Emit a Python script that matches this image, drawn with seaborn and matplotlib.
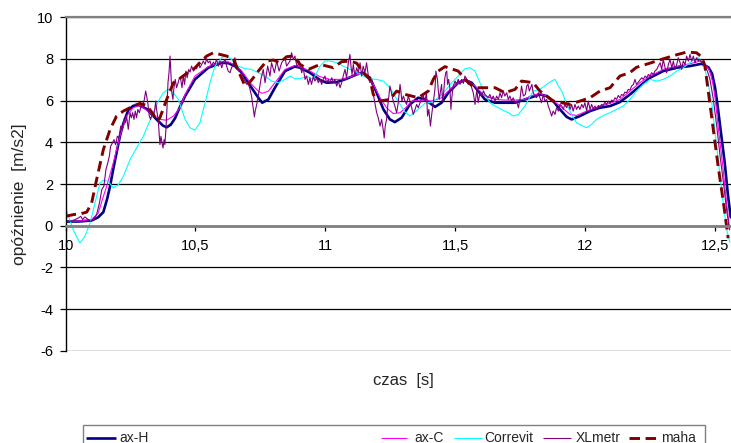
import matplotlib
matplotlib.use("Agg")
import matplotlib.pyplot as plt
import numpy as np
import pandas as pd
import seaborn as sns
from matplotlib.lines import Line2D
from matplotlib.patches import Rectangle

# ---------------------------------------------------------------- data
series_names = ["ax-H", "ax-C", "Correvit", "XLmetr", "maha"]

x_ticks = [10.0, 10.5, 11.0, 11.5, 12.0, 12.5]
x_tick_labels = ["10", "10,5", "11", "11,5", "12", "12,5"]
y_ticks = [-6, -4, -2, 0, 2, 4, 6, 8, 10]
y_tick_labels = ["-6", "-4", "-2", "0", "2", "4", "6", "8", "10"]

t_axH = [10.000, 10.050, 10.100, 10.125, 10.145, 10.160, 10.171, 10.183, 10.196, 10.209,
         10.222, 10.241, 10.260, 10.280, 10.312, 10.350, 10.375, 10.389, 10.405, 10.421,
         10.440, 10.460, 10.498, 10.549, 10.601, 10.626, 10.652, 10.678, 10.716, 10.742,
         10.757, 10.781, 10.806, 10.845, 10.883, 10.903, 10.941, 10.980, 11.005, 11.044,
         11.082, 11.121, 11.146, 11.172, 11.198, 11.224, 11.249, 11.268, 11.294, 11.326,
         11.358, 11.384, 11.423, 11.448, 11.474, 11.512, 11.538, 11.564, 11.589, 11.615,
         11.654, 11.692, 11.731, 11.789, 11.827, 11.853, 11.878, 11.904, 11.930, 11.949,
         11.981, 12.020, 12.058, 12.097, 12.135, 12.174, 12.212, 12.251, 12.302, 12.354,
         12.405, 12.450, 12.476, 12.490, 12.502, 12.513, 12.523, 12.539, 12.551, 12.562]
a_axH = [0.20, 0.20, 0.25, 0.40, 0.65, 1.30, 1.90, 2.70, 3.50, 4.30,
         4.90, 5.55, 5.75, 5.80, 5.60, 5.10, 4.80, 4.72, 4.85, 5.15,
         5.70, 6.22, 7.02, 7.58, 7.82, 7.80, 7.66, 7.34, 6.62, 6.14,
         5.90, 6.06, 6.62, 7.42, 7.64, 7.58, 7.34, 6.99, 6.86, 6.89,
         7.05, 7.26, 7.34, 7.10, 6.38, 5.58, 5.10, 4.97, 5.18, 5.82,
         6.14, 6.06, 5.70, 5.90, 6.38, 6.86, 6.99, 6.86, 6.46, 6.06,
         5.90, 5.90, 5.90, 6.14, 6.30, 6.22, 5.98, 5.58, 5.22, 5.10,
         5.26, 5.50, 5.66, 5.74, 5.93, 6.30, 6.70, 7.10, 7.42, 7.58,
         7.66, 7.77, 7.60, 7.30, 6.60, 5.60, 4.60, 3.00, 1.50, 0.40]

t_axC = [10.000, 10.050, 10.100, 10.125, 10.145, 10.158, 10.183, 10.209, 10.235, 10.260,
         10.286, 10.325, 10.363, 10.389, 10.415, 10.440, 10.460, 10.498, 10.549, 10.601,
         10.626, 10.652, 10.678, 10.716, 10.742, 10.757, 10.781, 10.806, 10.845, 10.883,
         10.903, 10.941, 10.980, 11.018, 11.057, 11.095, 11.134, 11.159, 11.185, 11.211,
         11.236, 11.262, 11.288, 11.313, 11.333, 11.371, 11.410, 11.448, 11.487, 11.525,
         11.545, 11.577, 11.615, 11.654, 11.692, 11.731, 11.769, 11.789, 11.827, 11.866,
         11.904, 11.943, 11.968, 12.007, 12.058, 12.097, 12.135, 12.174, 12.212, 12.251,
         12.302, 12.354, 12.405, 12.444, 12.469, 12.480, 12.492, 12.502, 12.514, 12.531,
         12.546, 12.558]
a_axC = [0.22, 0.22, 0.30, 0.60, 1.40, 1.90, 3.00, 4.30, 5.26, 5.66,
         5.77, 5.42, 5.10, 5.06, 5.26, 5.66, 6.30, 7.18, 7.63, 7.87,
         7.86, 7.72, 7.42, 6.78, 6.46, 6.35, 6.46, 6.86, 7.50, 7.69,
         7.63, 7.42, 7.15, 7.02, 7.02, 7.13, 7.31, 7.26, 6.78, 6.14,
         5.66, 5.38, 5.42, 5.70, 5.98, 6.03, 5.98, 6.14, 6.62, 6.94,
         6.99, 6.70, 6.22, 6.06, 6.03, 6.03, 6.06, 6.22, 6.35, 6.14,
         5.74, 5.34, 5.29, 5.50, 5.74, 5.87, 6.06, 6.46, 6.86, 7.18,
         7.50, 7.66, 7.77, 7.90, 7.66, 7.45, 6.90, 6.10, 4.70, 2.90,
         1.10, -0.20]

t_cor = [10.000, 10.029, 10.055, 10.074, 10.094, 10.113, 10.132, 10.145, 10.164, 10.183,
         10.203, 10.222, 10.248, 10.273, 10.299, 10.318, 10.338, 10.357, 10.376, 10.395,
         10.415, 10.434, 10.460, 10.479, 10.498, 10.517, 10.537, 10.556, 10.575, 10.601,
         10.620, 10.639, 10.665, 10.691, 10.716, 10.742, 10.768, 10.793, 10.819, 10.845,
         10.864, 10.883, 10.903, 10.928, 10.954, 10.980, 10.999, 11.018, 11.044, 11.069,
         11.095, 11.121, 11.146, 11.172, 11.198, 11.224, 11.249, 11.268, 11.288, 11.307,
         11.326, 11.358, 11.384, 11.410, 11.435, 11.461, 11.487, 11.512, 11.538, 11.557,
         11.577, 11.596, 11.615, 11.634, 11.654, 11.679, 11.705, 11.724, 11.744, 11.769,
         11.801, 11.827, 11.853, 11.872, 11.885, 11.898, 11.911, 11.930, 11.949, 11.968,
         11.988, 12.007, 12.026, 12.045, 12.071, 12.097, 12.122, 12.148, 12.174, 12.199,
         12.225, 12.251, 12.277, 12.302, 12.328, 12.354, 12.379, 12.405, 12.424, 12.437,
         12.456, 12.472, 12.489, 12.505, 12.521, 12.536, 12.549, 12.559]
a_cor = [0.85, -0.20, -0.83, -0.51, 0.13, 1.09, 2.05, 2.18, 2.13, 1.81,
         1.97, 2.37, 3.17, 3.73, 4.29, 4.86, 5.42, 5.98, 6.38, 6.54,
         6.38, 6.06, 5.10, 4.70, 4.58, 4.94, 5.90, 6.86, 7.66, 8.06,
         8.17, 7.98, 7.66, 7.53, 7.50, 7.34, 7.18, 6.94, 6.86, 7.02,
         7.18, 7.05, 7.05, 7.18, 7.02, 7.66, 7.90, 7.90, 7.82, 7.66,
         7.50, 7.34, 7.18, 7.05, 7.02, 6.94, 6.62, 6.22, 5.82, 5.45,
         5.26, 5.58, 5.87, 5.93, 6.14, 6.46, 6.86, 7.18, 7.53, 7.58,
         7.42, 6.86, 6.30, 5.90, 5.74, 5.58, 5.42, 5.26, 5.34, 5.74,
         6.46, 6.54, 6.78, 6.94, 7.02, 6.70, 6.46, 5.82, 5.34, 4.94,
         4.81, 4.70, 4.86, 5.10, 5.29, 5.42, 5.58, 5.74, 6.06, 6.46,
         6.78, 7.02, 6.94, 7.02, 7.18, 7.42, 7.58, 7.82, 8.01, 8.06,
         7.82, 7.02, 5.90, 4.13, 2.37, 0.77, -0.35, -0.80]

t_xl = [10.000, 10.017, 10.036, 10.049, 10.058, 10.065, 10.074, 10.087, 10.096, 10.106,
        10.119, 10.130, 10.139, 10.147, 10.155, 10.162, 10.168, 10.173, 10.180, 10.186,
        10.192, 10.199, 10.205, 10.212, 10.218, 10.225, 10.230, 10.235, 10.241, 10.248,
        10.253, 10.258, 10.263, 10.268, 10.273, 10.278, 10.284, 10.290, 10.296, 10.303,
        10.308, 10.312, 10.317, 10.322, 10.327, 10.332, 10.338, 10.343, 10.347, 10.350,
        10.356, 10.359, 10.363, 10.367, 10.371, 10.375, 10.379, 10.382, 10.386, 10.390,
        10.394, 10.398, 10.402, 10.406, 10.409, 10.413, 10.417, 10.422, 10.427, 10.433,
        10.438, 10.443, 10.448, 10.453, 10.458, 10.463, 10.468, 10.474, 10.479, 10.485,
        10.492, 10.498, 10.504, 10.511, 10.517, 10.524, 10.530, 10.537, 10.543, 10.549,
        10.556, 10.562, 10.569, 10.575, 10.581, 10.588, 10.594, 10.601, 10.607, 10.614,
        10.620, 10.626, 10.633, 10.639, 10.646, 10.652, 10.656, 10.661, 10.666, 10.671,
        10.678, 10.684, 10.691, 10.697, 10.703, 10.710, 10.716, 10.723, 10.727, 10.730,
        10.736, 10.741, 10.746, 10.752, 10.761, 10.768, 10.778, 10.787, 10.793, 10.804,
        10.813, 10.822, 10.832, 10.845, 10.851, 10.864, 10.870, 10.877, 10.883, 10.892,
        10.900, 10.909, 10.915, 10.922, 10.928, 10.935, 10.941, 10.947, 10.954, 10.960,
        10.967, 10.973, 10.980, 10.986, 10.992, 10.999, 11.005, 11.012, 11.018, 11.025,
        11.031, 11.037, 11.044, 11.050, 11.057, 11.063, 11.069, 11.076, 11.082, 11.089,
        11.095, 11.099, 11.103, 11.108, 11.114, 11.121, 11.127, 11.134, 11.140, 11.146,
        11.153, 11.159, 11.166, 11.172, 11.179, 11.185, 11.191, 11.198, 11.204, 11.211,
        11.217, 11.224, 11.227, 11.231, 11.236, 11.240, 11.244, 11.249, 11.256, 11.262,
        11.268, 11.275, 11.281, 11.288, 11.292, 11.295, 11.301, 11.307, 11.313, 11.320,
        11.326, 11.333, 11.339, 11.346, 11.352, 11.358, 11.365, 11.371, 11.378, 11.384,
        11.390, 11.394, 11.399, 11.405, 11.410, 11.416, 11.423, 11.426, 11.432, 11.435,
        11.439, 11.443, 11.448, 11.452, 11.456, 11.460, 11.464, 11.468, 11.471, 11.475,
        11.480, 11.484, 11.488, 11.493, 11.500, 11.506, 11.512, 11.519, 11.525, 11.532,
        11.538, 11.545, 11.551, 11.557, 11.564, 11.570, 11.577, 11.581, 11.584, 11.589,
        11.596, 11.602, 11.609, 11.615, 11.622, 11.628, 11.634, 11.641, 11.647, 11.654,
        11.660, 11.667, 11.673, 11.679, 11.686, 11.692, 11.699, 11.705, 11.711, 11.718,
        11.724, 11.731, 11.737, 11.744, 11.750, 11.756, 11.763, 11.771, 11.776, 11.781,
        11.786, 11.791, 11.796, 11.801, 11.808, 11.814, 11.821, 11.827, 11.833, 11.840,
        11.846, 11.853, 11.859, 11.866, 11.872, 11.878, 11.885, 11.891, 11.898, 11.904,
        11.911, 11.917, 11.923, 11.930, 11.936, 11.943, 11.949, 11.955, 11.962, 11.968,
        11.975, 11.981, 11.988, 11.994, 12.000, 12.007, 12.013, 12.020, 12.026, 12.032,
        12.039, 12.045, 12.052, 12.058, 12.065, 12.071, 12.077, 12.084, 12.090, 12.097,
        12.103, 12.110, 12.116, 12.122, 12.129, 12.135, 12.142, 12.148, 12.154, 12.161,
        12.167, 12.174, 12.180, 12.187, 12.193, 12.199, 12.206, 12.219, 12.225, 12.232,
        12.238, 12.245, 12.251, 12.257, 12.264, 12.270, 12.277, 12.283, 12.290, 12.296,
        12.302, 12.309, 12.315, 12.322, 12.328, 12.335, 12.341, 12.347, 12.354, 12.360,
        12.367, 12.373, 12.379, 12.386, 12.392, 12.399, 12.405, 12.412, 12.418, 12.424,
        12.431, 12.437, 12.444, 12.450, 12.456, 12.463, 12.472, 12.482, 12.495, 12.508,
        12.521, 12.534, 12.546, 12.557]
a_xl = [0.21, 0.21, 0.29, 0.37, 0.45, 0.29, 0.42, 0.29, 0.21, 0.29,
        0.53, 1.09, 1.73, 1.89, 2.69, 3.01, 3.33, 3.81, 3.97, 4.13,
        3.89, 4.29, 4.21, 4.78, 4.62, 5.13, 4.94, 5.22, 4.62, 5.42,
        5.18, 5.42, 5.10, 5.50, 5.18, 5.58, 5.42, 5.74, 5.71, 6.06,
        6.46, 6.22, 5.82, 5.26, 5.10, 5.34, 5.26, 5.58, 5.98, 5.58,
        5.10, 4.62, 3.89, 4.29, 3.97, 3.73, 4.13, 3.89, 4.62, 5.58,
        6.86, 7.34, 8.14, 7.18, 6.38, 6.06, 6.62, 7.02, 6.62, 6.86,
        7.10, 7.02, 6.62, 7.18, 6.78, 7.42, 7.10, 7.50, 7.37, 7.66,
        7.42, 7.58, 7.53, 7.82, 7.58, 7.74, 7.90, 7.74, 8.01, 7.82,
        7.90, 7.66, 7.85, 7.74, 7.98, 7.66, 7.90, 7.58, 7.82, 7.98,
        7.66, 7.42, 7.34, 7.58, 7.74, 8.06, 7.82, 7.58, 7.42, 7.50,
        7.34, 7.10, 6.94, 6.78, 6.86, 6.54, 6.22, 5.58, 5.22, 5.50,
        5.82, 6.22, 6.54, 7.02, 7.50, 6.86, 7.66, 7.18, 7.82, 7.34,
        7.90, 7.42, 7.82, 8.06, 7.66, 7.90, 8.30, 7.98, 8.14, 7.58,
        7.90, 7.34, 7.58, 7.02, 7.18, 6.78, 7.10, 6.78, 7.18, 6.94,
        7.10, 6.86, 7.02, 6.78, 7.02, 7.18, 6.86, 7.02, 6.86, 7.10,
        6.86, 7.02, 6.70, 6.94, 6.62, 6.86, 7.18, 7.50, 7.10, 7.82,
        8.22, 7.66, 7.26, 7.74, 7.18, 7.58, 7.34, 7.82, 7.18, 7.66,
        7.34, 7.82, 7.18, 6.86, 7.02, 6.30, 5.90, 5.42, 5.18, 4.78,
        5.10, 4.54, 4.21, 4.78, 5.10, 5.66, 6.14, 6.70, 6.30, 5.98,
        5.74, 5.42, 5.90, 6.78, 6.38, 5.98, 6.22, 5.98, 5.82, 6.22,
        5.98, 5.66, 5.34, 5.58, 5.82, 5.66, 5.90, 6.06, 6.22, 5.98,
        6.38, 5.26, 5.58, 4.78, 5.34, 5.90, 6.62, 7.42, 7.02, 6.54,
        6.06, 6.38, 6.78, 5.98, 6.38, 7.02, 7.34, 7.42, 6.78, 7.02,
        6.62, 5.58, 6.22, 6.70, 6.94, 6.78, 7.02, 6.78, 7.02, 6.83,
        7.18, 7.02, 6.78, 6.94, 6.62, 6.38, 5.82, 6.22, 6.54, 5.90,
        6.38, 6.22, 6.46, 6.30, 6.22, 6.14, 6.30, 6.06, 6.22, 5.98,
        6.22, 6.06, 6.38, 6.14, 6.46, 6.22, 6.38, 6.06, 6.22, 5.98,
        6.14, 5.90, 5.98, 5.66, 6.06, 6.70, 6.22, 6.30, 6.70, 6.78,
        6.46, 6.62, 6.78, 6.38, 6.22, 6.14, 6.38, 6.14, 5.90, 6.30,
        5.98, 6.06, 5.74, 5.50, 5.26, 5.50, 5.34, 5.66, 5.50, 5.82,
        5.74, 5.58, 5.82, 5.66, 5.90, 5.58, 5.82, 5.50, 5.82, 5.58,
        5.74, 5.58, 5.82, 5.66, 5.90, 5.50, 5.98, 5.58, 5.82, 5.61,
        5.74, 5.58, 5.77, 5.71, 5.82, 5.77, 5.93, 5.82, 5.98, 5.87,
        6.03, 5.98, 6.14, 6.06, 6.25, 6.14, 6.30, 6.25, 6.41, 6.38,
        6.54, 6.51, 6.70, 6.78, 7.02, 6.78, 6.89, 7.10, 7.02, 7.18,
        7.10, 7.26, 7.18, 7.34, 7.26, 7.42, 7.50, 7.66, 7.82, 7.50,
        7.98, 7.58, 7.34, 7.74, 7.98, 7.58, 7.90, 7.50, 7.74, 8.06,
        7.82, 7.50, 7.90, 7.74, 8.14, 7.90, 8.22, 7.90, 8.14, 7.82,
        8.06, 7.90, 7.98, 7.82, 7.90, 7.66, 7.42, 7.02, 6.06, 4.78,
        3.33, 2.05, 0.77, -0.19]

t_maha = [10.000, 10.029, 10.060, 10.081, 10.100, 10.119, 10.145, 10.171, 10.196, 10.222,
          10.260, 10.286, 10.312, 10.338, 10.350, 10.363, 10.389, 10.415, 10.440, 10.466,
          10.492, 10.517, 10.543, 10.569, 10.594, 10.620, 10.646, 10.671, 10.691, 10.710,
          10.723, 10.742, 10.774, 10.800, 10.825, 10.851, 10.877, 10.903, 10.935, 10.980,
          11.031, 11.063, 11.095, 11.121, 11.146, 11.172, 11.185, 11.198, 11.211, 11.249,
          11.275, 11.307, 11.333, 11.358, 11.397, 11.416, 11.435, 11.461, 11.512, 11.551,
          11.577, 11.602, 11.654, 11.692, 11.731, 11.756, 11.780, 11.801, 11.827, 11.853,
          11.878, 11.943, 11.981, 12.020, 12.058, 12.097, 12.135, 12.174, 12.199, 12.251,
          12.300, 12.353, 12.392, 12.430, 12.450, 12.462, 12.476, 12.495, 12.514, 12.534,
          12.552]
a_maha = [0.45, 0.53, 0.58, 0.65, 1.09, 2.21, 3.65, 4.62, 5.26, 5.50,
          5.74, 5.87, 5.77, 5.34, 5.02, 5.18, 6.06, 6.86, 7.07, 7.31,
          7.50, 7.82, 8.14, 8.30, 8.22, 8.14, 7.98, 7.26, 6.70, 6.90,
          7.10, 7.42, 7.90, 7.95, 7.82, 8.11, 8.14, 7.74, 7.50, 7.74,
          7.58, 7.87, 7.90, 7.80, 7.34, 7.02, 6.30, 6.06, 5.98, 6.06,
          6.46, 6.30, 6.22, 6.14, 6.46, 7.02, 7.42, 7.63, 7.42, 6.86,
          6.62, 6.62, 6.62, 6.38, 6.54, 6.94, 6.90, 6.86, 6.46, 6.22,
          5.98, 5.82, 5.98, 6.14, 6.46, 6.62, 7.18, 7.35, 7.60, 7.80,
          8.00, 8.20, 8.33, 8.30, 8.10, 7.70, 6.40, 4.60, 2.80, 1.10,
          -0.60]

# ---------------------------------------------------------------- style
line_colors = {"ax-H": "#000080", "ax-C": "#FF00FF", "Correvit": "#00FFFF",
               "XLmetr": "#800080", "maha": "#800000"}
line_widths = {"ax-H": 1.9, "ax-C": 0.8, "Correvit": 0.8, "XLmetr": 0.8, "maha": 2.1}
line_dashes = {"ax-H": "", "ax-C": "", "Correvit": "", "XLmetr": "", "maha": (3.6, 1.9)}

sns.set_theme(style="white")
plt.rcParams["font.family"] = ["Liberation Sans", "DejaVu Sans"]

frames = []
for name, t, a in [("ax-H", t_axH, a_axH), ("ax-C", t_axC, a_axC),
                   ("Correvit", t_cor, a_cor), ("XLmetr", t_xl, a_xl),
                   ("maha", t_maha, a_maha)]:
    frames.append(pd.DataFrame({"czas": t, "a": a, "seria": name}))
df = pd.concat(frames, ignore_index=True)

W, H = 731, 443
fig = plt.figure(figsize=(W / 100, H / 100), dpi=100)
fig.patch.set_facecolor("white")
ax = fig.add_axes([65.7 / W, 1 - 350.7 / H, 665.3 / W, 333.4 / H])

sns.lineplot(data=df, x="czas", y="a",
             hue="seria", hue_order=series_names, palette=line_colors,
             size="seria", size_order=series_names, sizes=line_widths,
             style="seria", style_order=series_names, dashes=line_dashes,
             estimator=None, sort=False, legend=False, ax=ax)

ax.set_xlim(10.0, 12.563)
ax.set_ylim(-6, 10)
ax.set_xticks(x_ticks)
ax.set_xticklabels(x_tick_labels)
ax.set_yticks(y_ticks)
ax.set_yticklabels(y_tick_labels)
ax.set_xlabel("")
ax.set_ylabel("")
ax.set_facecolor("white")

ax.set_axisbelow(True)
ax.yaxis.grid(True, color="black", linewidth=0.9)
ax.xaxis.grid(False)

ax.spines["bottom"].set_position(("data", 0))
ax.spines["bottom"].set_color("#808080")
ax.spines["bottom"].set_linewidth(2.0)
ax.spines["top"].set_color("#808080")
ax.spines["top"].set_linewidth(1.6)
ax.spines["right"].set_visible(False)
ax.spines["left"].set_color("black")
ax.spines["left"].set_linewidth(1.0)

ax.tick_params(axis="x", direction="out", length=3.4, width=0.9, colors="black",
               pad=6.5, labelsize=10.5, bottom=True)
ax.tick_params(axis="y", direction="out", length=4.3, width=0.9, colors="black",
               pad=4.8, labelsize=10.5, left=True)

fig.text(20 / W, 1 - 194 / H, "opóźnienie  [m/s2]", rotation=90,
         ha="center", va="center", fontsize=12.5)
fig.text(403 / W, 1 - 380 / H, "czas  [s]", ha="center", va="center", fontsize=12)

# legend row at the bottom
fig.add_artist(Rectangle((82.5 / W, 1 - 447 / H), 622 / W, 22 / H,
                         transform=fig.transFigure, fill=False,
                         edgecolor="#808080", linewidth=1.0))
legend_y = 1 - 437.5 / H
legend_items = [("ax-H", 85.7, 115.6, 119.0), ("ax-C", 381.0, 406.6, 414.0),
                ("Correvit", 453.7, 481.5, 484.5), ("XLmetr", 542.7, 571.0, 575.6),
                ("maha", 629.0, 657.0, 661.0)]
for name, x0, x1, xt in legend_items:
    kw = dict(color=line_colors[name], linewidth=line_widths[name],
              transform=fig.transFigure, solid_capstyle="butt", dash_capstyle="butt")
    ln = Line2D([x0 / W, x1 / W], [legend_y, legend_y], **kw)
    if line_dashes[name]:
        ln.set_dashes(line_dashes[name])
    fig.add_artist(ln)
    fig.text(xt / W, legend_y, name, ha="left", va="center", fontsize=10)

fig.savefig("out.png", dpi=100)
